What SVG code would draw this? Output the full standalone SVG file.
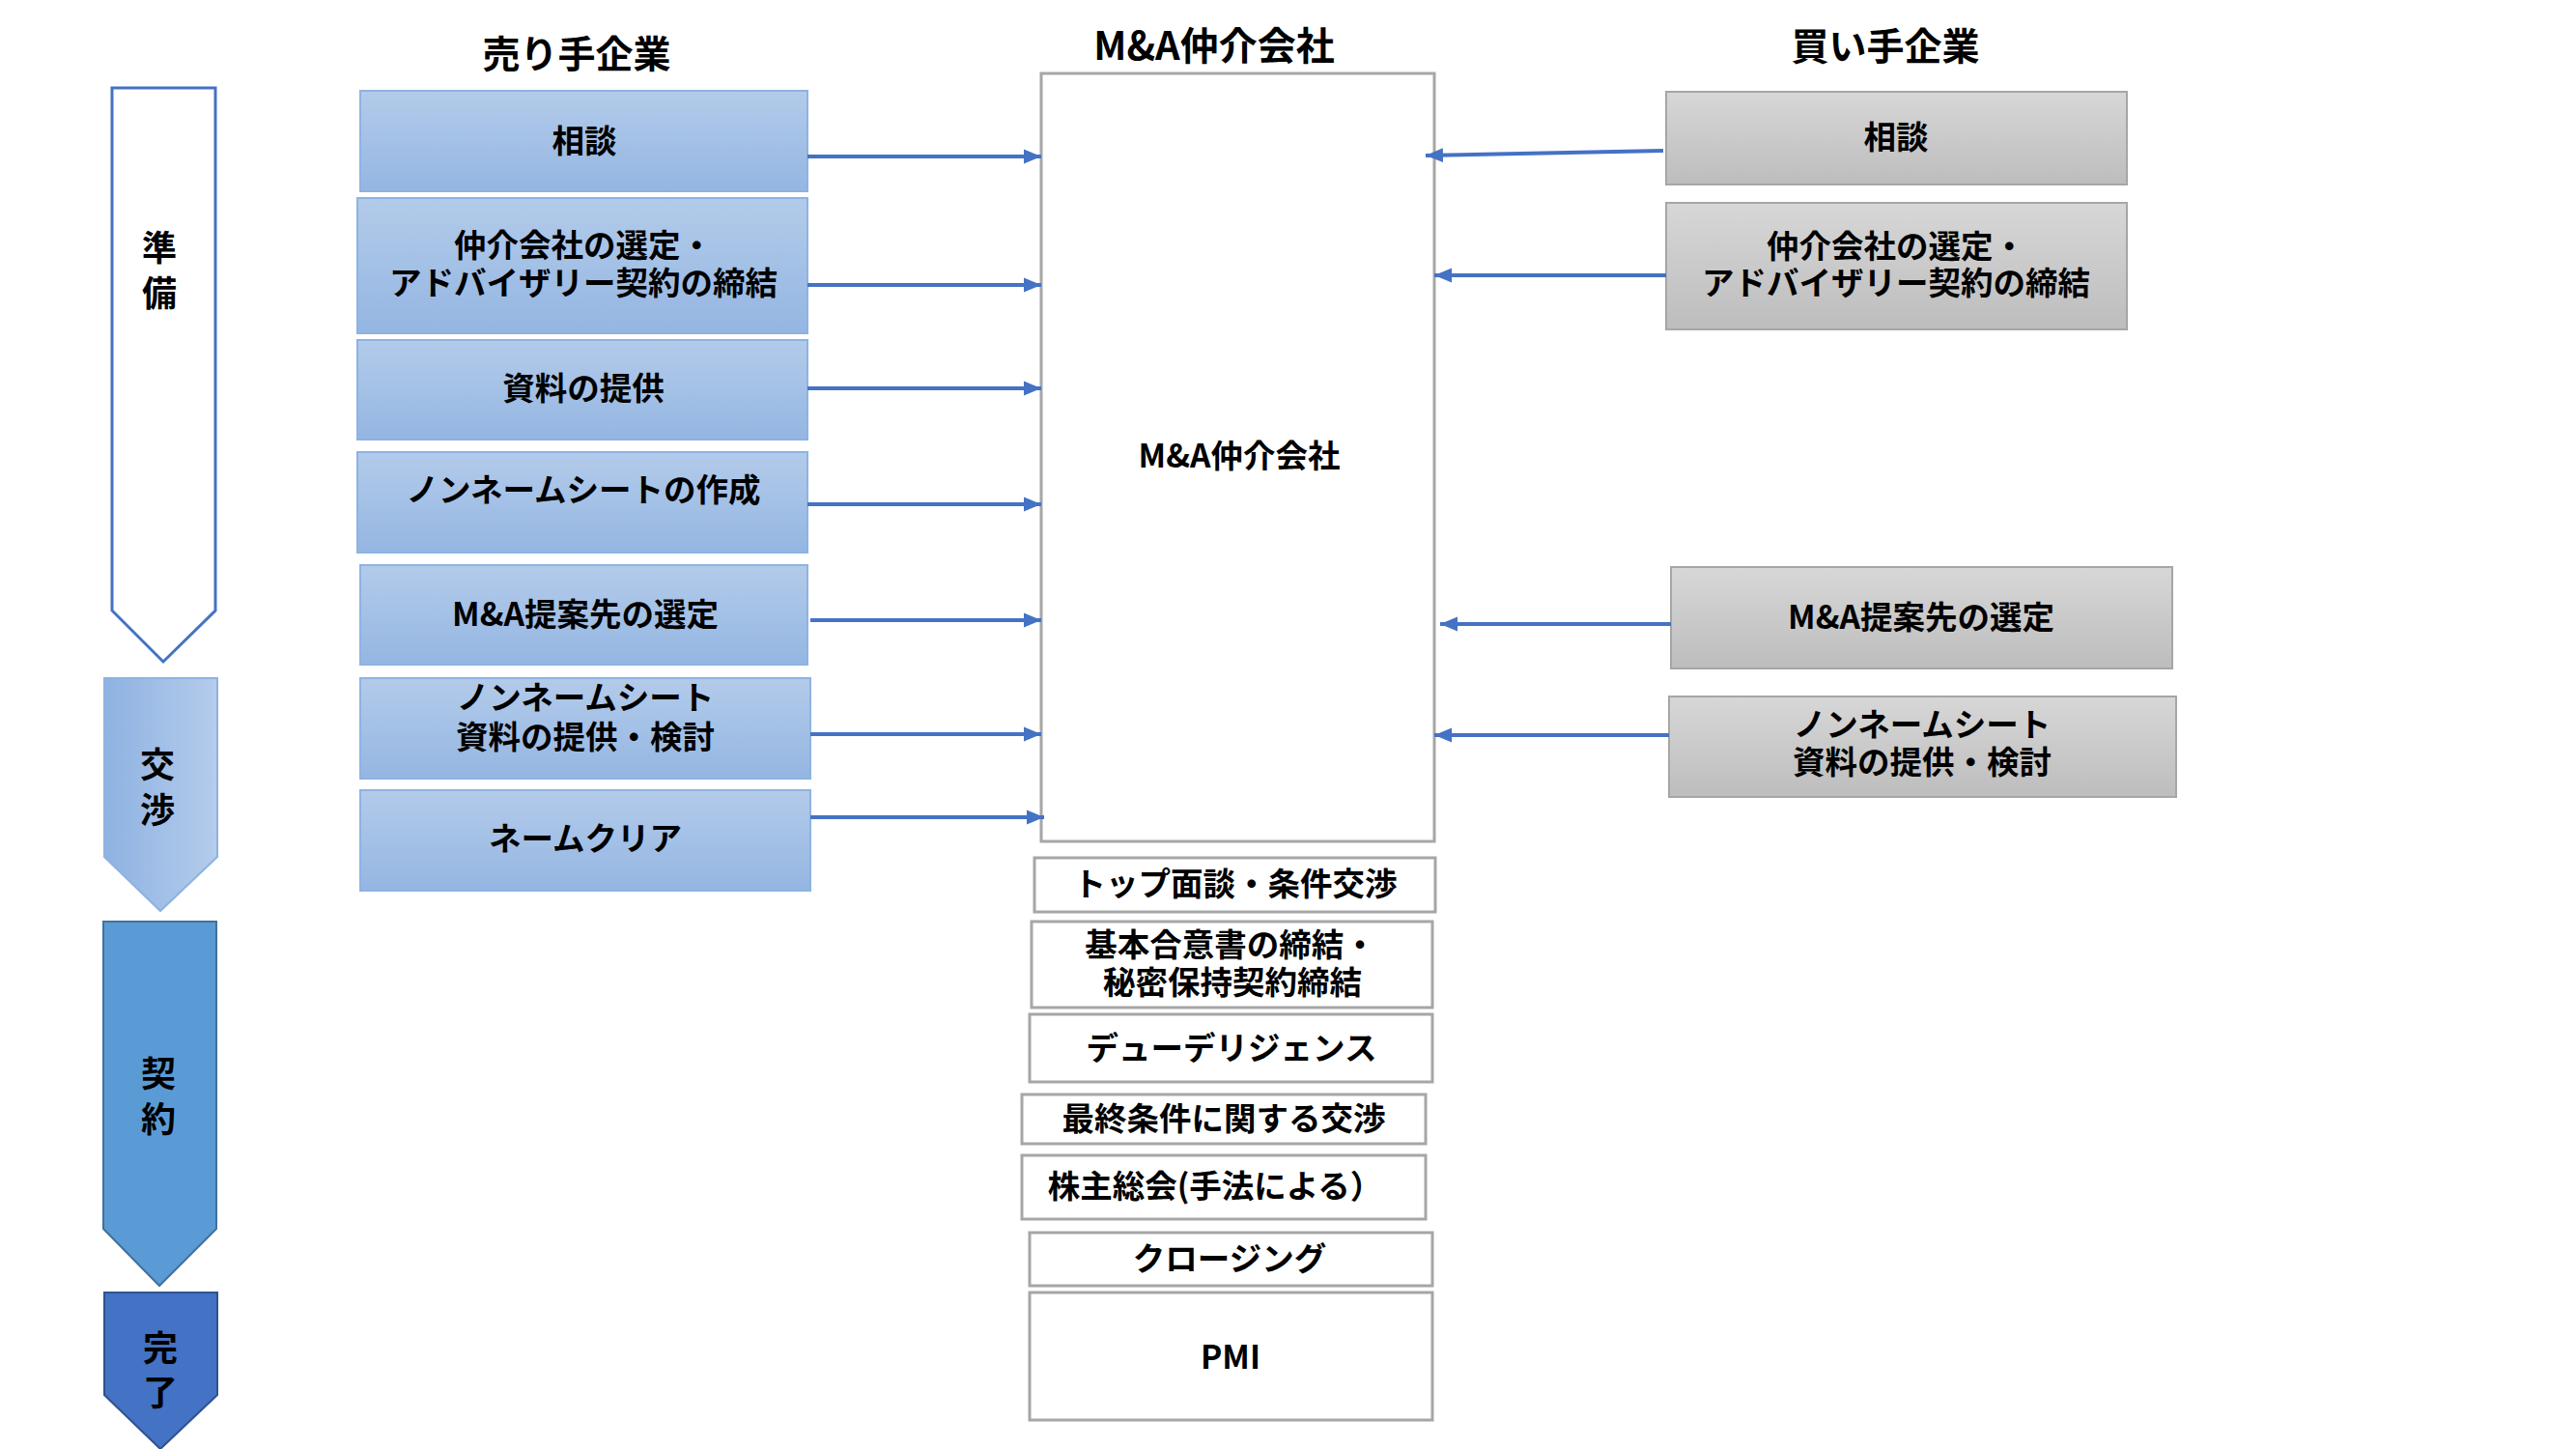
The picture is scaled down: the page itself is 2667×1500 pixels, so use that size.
<svg xmlns="http://www.w3.org/2000/svg" width="2667" height="1500" viewBox="0 0 2667 1500">
<defs>
  <linearGradient id="gSell" x1="0" y1="0" x2="0" y2="1">
    <stop offset="0" stop-color="#B3CBEA"/>
    <stop offset="1" stop-color="#94B6E2"/>
  </linearGradient>
  <linearGradient id="gBuy" x1="0" y1="0" x2="0" y2="1">
    <stop offset="0" stop-color="#D7D7D7"/>
    <stop offset="1" stop-color="#BDBDBD"/>
  </linearGradient>
  <linearGradient id="gNeg" x1="0" y1="0" x2="1" y2="0">
    <stop offset="0" stop-color="#8EB2E2"/>
    <stop offset="1" stop-color="#B5CCEB"/>
  </linearGradient>
  <marker id="ah" markerUnits="userSpaceOnUse" markerWidth="22" markerHeight="18" refX="18" refY="9" orient="auto">
    <path d="M0,1.5 L18,9 L0,16.5 Z" fill="#4472C4"/>
  </marker>
  <style>
    text { font-family: "Noto Sans CJK JP", "Noto Sans", sans-serif; font-weight: bold; fill: #000; text-anchor: middle; dominant-baseline: central; }
    .hdr { font-size: 39px; }
    .hdrm { font-size: 40px; }
    .t { font-size: 33.5px; }
    .ph { font-size: 36px; }
    .sell { fill: url(#gSell); stroke: #8DB3E2; stroke-width: 2; }
    .buy { fill: url(#gBuy); stroke: #A6A6A6; stroke-width: 2; }
    .mid { fill: #FFFFFF; stroke: #A6A6A6; stroke-width: 3; }
    .conn { stroke: #4472C4; stroke-width: 4; fill: none; marker-end: url(#ah); }
  </style>
</defs>
<rect width="2667" height="1500" fill="#FFFFFF"/>

<g id="headers">
  <text class="hdr" x="597" y="53">売り手企業</text>
  <text class="hdrm" x="1257" y="45">M&amp;A仲介会社</text>
  <text class="hdr" x="1952" y="45">買い手企業</text>
</g>

<g id="phase-junbi">
  <polygon points="116,91 223,91 223,632 169,685 116,632" fill="#FFFFFF" stroke="#4472C4" stroke-width="3"/>
  <text class="ph"><tspan x="165" y="254">準</tspan><tspan x="165" y="301">備</tspan></text>
</g>
<g id="phase-kosho">
  <polygon points="108,702 225,702 225,887 166,943 108,887" fill="url(#gNeg)" stroke="#8DB3E2" stroke-width="2"/>
  <text class="ph"><tspan x="163" y="789">交</tspan><tspan x="163" y="836">渉</tspan></text>
</g>
<g id="phase-keiyaku">
  <polygon points="107,954 224,954 224,1272 165,1331 107,1272" fill="#5B9BD5" stroke="#41719C" stroke-width="2"/>
  <text class="ph"><tspan x="164" y="1109">契</tspan><tspan x="164" y="1156">約</tspan></text>
</g>
<g id="phase-kanryo">
  <polygon points="108,1338 225,1338 225,1444 166,1500 108,1444" fill="#4472C4" stroke="#2F528F" stroke-width="2"/>
  <text class="ph"><tspan x="166" y="1393">完</tspan><tspan x="166" y="1439">了</tspan></text>
</g>

<g id="s1"><rect class="sell" x="373" y="94" width="463" height="104"/><text class="t" x="605" y="143">相談</text></g>
<g id="s2"><rect class="sell" x="370" y="205" width="466" height="140"/><text class="t"><tspan x="604" y="251">仲介会社の選定・</tspan><tspan x="604" y="290">アドバイザリー契約の締結</tspan></text></g>
<g id="s3"><rect class="sell" x="370" y="352" width="466" height="103"/><text class="t" x="604" y="399">資料の提供</text></g>
<g id="s4"><rect class="sell" x="370" y="468" width="466" height="104"/><text class="t" x="604" y="504">ノンネームシートの作成</text></g>
<g id="s5"><rect class="sell" x="373" y="585" width="463" height="103"/><text class="t" x="606" y="633">M&amp;A提案先の選定</text></g>
<g id="s6"><rect class="sell" x="373" y="702" width="466" height="104"/><text class="t"><tspan x="606" y="719">ノンネームシート</tspan><tspan x="606" y="760">資料の提供・検討</tspan></text></g>
<g id="s7"><rect class="sell" x="373" y="818" width="466" height="104"/><text class="t" x="606" y="865">ネームクリア</text></g>

<g id="broker">
  <rect class="mid" x="1078" y="76" width="407" height="795"/>
  <text class="t" x="1283" y="469">M&amp;A仲介会社</text>
</g>

<g id="b1"><rect class="buy" x="1725" y="95" width="477" height="96"/><text class="t" x="1963" y="139">相談</text></g>
<g id="b2"><rect class="buy" x="1725" y="210" width="477" height="131"/><text class="t"><tspan x="1963" y="252">仲介会社の選定・</tspan><tspan x="1963" y="290">アドバイザリー契約の締結</tspan></text></g>
<g id="b3"><rect class="buy" x="1730" y="587" width="519" height="105"/><text class="t" x="1989" y="636">M&amp;A提案先の選定</text></g>
<g id="b4"><rect class="buy" x="1728" y="721" width="525" height="104"/><text class="t"><tspan x="1990" y="747">ノンネームシート</tspan><tspan x="1990" y="786">資料の提供・検討</tspan></text></g>

<g id="m1"><rect class="mid" x="1071" y="888" width="415" height="56"/><text class="t" x="1279" y="912">トップ面談・条件交渉</text></g>
<g id="m2"><rect class="mid" x="1068" y="954" width="415" height="89"/><text class="t"><tspan x="1274" y="975">基本合意書の締結・</tspan><tspan x="1276" y="1014">秘密保持契約締結</tspan></text></g>
<g id="m3"><rect class="mid" x="1066" y="1050" width="417" height="70"/><text class="t" x="1275" y="1082">デューデリジェンス</text></g>
<g id="m4"><rect class="mid" x="1058" y="1133" width="418" height="51"/><text class="t" x="1267" y="1155">最終条件に関する交渉</text></g>
<g id="m5"><rect class="mid" x="1058" y="1196" width="418" height="66"/><text class="t" x="1258" y="1225">株主総会(手法による）</text></g>
<g id="m6"><rect class="mid" x="1066" y="1276" width="417" height="55"/><text class="t" x="1273" y="1300">クロージング</text></g>
<g id="m7"><rect class="mid" x="1066" y="1338" width="417" height="132"/><text class="t" x="1274" y="1402">PMI</text></g>

<g id="connectors">
  <line class="conn" x1="836" y1="162" x2="1078" y2="162"/>
  <line class="conn" x1="836" y1="295" x2="1078" y2="295"/>
  <line class="conn" x1="836" y1="402" x2="1078" y2="402"/>
  <line class="conn" x1="836" y1="522" x2="1078" y2="522"/>
  <line class="conn" x1="839" y1="642" x2="1078" y2="642"/>
  <line class="conn" x1="839" y1="760" x2="1078" y2="760"/>
  <line class="conn" x1="839" y1="846" x2="1081" y2="846"/>
  <line class="conn" x1="1722" y1="156" x2="1476" y2="161"/>
  <line class="conn" x1="1725" y1="285" x2="1485" y2="285"/>
  <line class="conn" x1="1730" y1="646" x2="1491" y2="646"/>
  <line class="conn" x1="1728" y1="761" x2="1485" y2="761"/>
</g>
</svg>
